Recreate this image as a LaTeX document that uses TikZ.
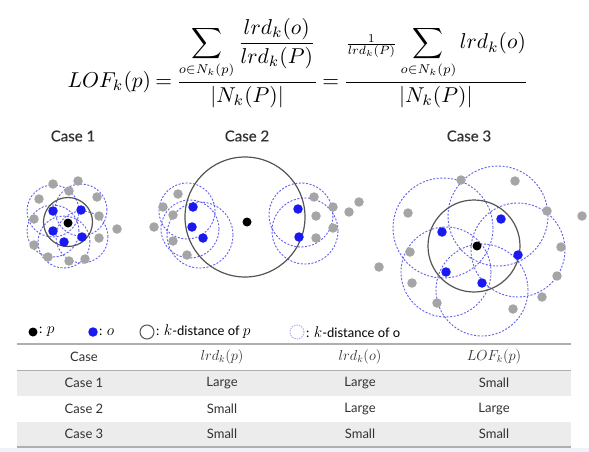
\RequirePackage{fix-cm}
\documentclass[tikz,border=0pt]{standalone}
\usepackage{amsmath}
\usepackage{graphicx}
\usepackage{fontspec}
\setsansfont{Lato}
\newfontfamily\titlefont{Lato}[FakeBold=0.4]
\newcommand{\lgmath}[1]{{\fontsize{15.5}{17}\selectfont$#1$}}
\newcommand{\subnk}{\scalebox{0.85}{$\scriptstyle o\in N_k(p)$}}
\definecolor{oblue}{RGB}{25,25,240}
\definecolor{ggray}{RGB}{165,165,165}
\definecolor{kgray}{RGB}{85,85,85}
\definecolor{kblue}{RGB}{95,95,240}
\definecolor{lblue}{RGB}{175,175,245}
\definecolor{tgray}{RGB}{50,50,50}
\definecolor{rowgray}{RGB}{236,236,236}
\definecolor{linegray}{RGB}{175,175,175}
\definecolor{bandblue}{RGB}{238,243,250}
\begin{document}
\begin{tikzpicture}[x=1pt,y=-1pt,
	pdot/.style={shape=circle,fill=black,inner sep=0pt,minimum size=9pt},
	odot/.style={shape=circle,fill=oblue,inner sep=0pt,minimum size=9.5pt},
	gdot/.style={shape=circle,fill=ggray,inner sep=0pt,minimum size=9.5pt},
	kp/.style={draw=kgray,line width=1.2pt},
	ko/.style={draw=kblue,line width=0.9pt,dash pattern=on 2pt off 1.6pt},
	casetitle/.style={font=\titlefont\fontsize{15}{17}\selectfont,text=tgray},
	legend/.style={font=\sffamily\fontsize{13}{15}\selectfont,text=black,anchor=west,inner sep=0pt},
	cell/.style={font=\sffamily\fontsize{13}{15}\selectfont,text=tgray},
	mcell/.style={font=\fontsize{14.5}{16}\selectfont,text=tgray},
	]
	\useasboundingbox (0,0) rectangle (589,452);
	\fill[white] (0,0) rectangle (589,452);

	\node (lof) at (298,63) {\scalebox{2.15}{\thickmuskip=3.5mu$\displaystyle LOF_k(p)=\frac{\displaystyle\sum_{\subnk}\frac{lrd_k(o)}{lrd_k(P)}}{|N_k(P)|}=\frac{\scalebox{0.8}{$\frac{1}{lrd_k(P)}$}\displaystyle\sum_{\subnk}lrd_k(o)}{|N_k(P)|}$}};

	\node[casetitle] (t1) at (73,136) {Case 1};
	\node[casetitle] (t2) at (247,136) {Case 2};
	\node[casetitle] (t3) at (469,136) {Case 3};

	\draw[ko] (53,211) circle[radius=26pt];
	\draw[ko] (81,210) circle[radius=26pt];
	\draw[ko] (53,231) circle[radius=26pt];
	\draw[ko] (82,237) circle[radius=26pt];
	\draw[ko] (64,242) circle[radius=26pt];
	\draw[kp] (68,222) circle[radius=24.5pt];

	\draw[ko] (187,211) circle[radius=28pt];
	\draw[ko] (190,229) circle[radius=29pt];
	\draw[ko] (200,235) circle[radius=33pt];
	\draw[ko] (301,215) circle[radius=32pt];
	\draw[ko] (305,231) circle[radius=33pt];
	\draw[kp] (245,217) circle[radius=60pt];

	\draw[ko] (443,228) circle[radius=50pt];
	\draw[ko] (498,216) circle[radius=50pt];
	\draw[ko] (518,250) circle[radius=47pt];
	\draw[ko] (446,272) circle[radius=45pt];
	\draw[ko] (482,290) circle[radius=46pt];
	\draw[kp] (474,246) circle[radius=46pt];

	\foreach \x/\y in {53/184,78/181,39/199,69/191,97/197,34/219,99/216,117/229,99/238,34/245,48/257,69/261,85/259}
		\node[gdot] at (\x,\y) {};
	\node[odot] (o1a) at (53,211) {};
	\node[odot] (o1b) at (81,210) {};
	\node[odot] (o1c) at (53,231) {};
	\node[odot] (o1d) at (82,237) {};
	\node[odot] (o1e) at (64,242) {};
	\node[pdot] (p1) at (68,223) {};

	\foreach \x/\y in {178/194,163/207,173/215,154/227,173/241,187/255,314/197,316/216,333/207,349/212,359/202,333/228,316/238}
		\node[gdot] at (\x,\y) {};
	\node[odot] (o2a) at (193,207) {};
	\node[odot] (o2b) at (192,227) {};
	\node[odot] (o2c) at (203,238) {};
	\node[odot] (o2d) at (298,209) {};
	\node[odot] (o2e) at (299,237) {};
	\node[pdot] (p2) at (247,222) {};

	\foreach \x/\y in {461/180,515/181,408/213,547/211,582/216,410/252,561/247,379/267,412/283,557/276,542/297,437/303,513/309}
		\node[gdot] at (\x,\y) {};
	\node[odot] (o3a) at (442,232) {};
	\node[odot] (o3b) at (501,219) {};
	\node[odot] (o3c) at (518,255) {};
	\node[odot] (o3d) at (446,272) {};
	\node[odot] (o3e) at (482,283) {};
	\node[pdot] (p3) at (477,246) {};

	\node[pdot] (lgp) at (33,332) {};
	\node[legend] (lgpt) at (39,332) {: \lgmath{p}};
	\node[odot] (lgo) at (93,332) {};
	\node[legend] (lgot) at (99,332) {: \lgmath{o}};
	\draw[draw=kgray,line width=1pt] (147,332) circle[radius=7pt];
	\node[legend] (lgkp) at (156,332) {: \lgmath{k}-distance of \lgmath{p}};
	\draw[draw=lblue,line width=0.9pt,dash pattern=on 1.5pt off 1pt] (297,332) circle[radius=7pt];
	\node[legend] (lgko) at (306,332) {: \lgmath{k}-distance of o};

	\fill[rowgray] (17,370) rectangle (571,396);
	\fill[rowgray] (17,422) rectangle (571,447);
	\fill[bandblue] (0,448) rectangle (589,452);
	\draw[linegray,line width=1.3pt] (17,344) -- (571,344);
	\draw[linegray,line width=1pt] (17,370) -- (571,370);
	\draw[linegray,line width=1.3pt] (17,447) -- (571,447);

	\node[cell] (h1) at (84,357) {Case};
	\node[mcell] (h2) at (222,357) {$lrd_k(p)$};
	\node[mcell] (h3) at (360,357) {$lrd_k(o)$};
	\node[mcell] (h4) at (494,357) {$LOF_k(p)$};
	\node[cell] (r1a) at (84,383) {Case 1};
	\node[cell] (r1b) at (222,383) {Large};
	\node[cell] (r1c) at (360,383) {Large};
	\node[cell] (r1d) at (494,383) {Small};
	\node[cell] (r2a) at (84,409) {Case 2};
	\node[cell] (r2b) at (222,409) {Small};
	\node[cell] (r2c) at (360,409) {Large};
	\node[cell] (r2d) at (494,409) {Large};
	\node[cell] (r3a) at (84,434) {Case 3};
	\node[cell] (r3b) at (222,434) {Small};
	\node[cell] (r3c) at (360,434) {Small};
	\node[cell] (r3d) at (494,434) {Small};
\end{tikzpicture}
\end{document}
